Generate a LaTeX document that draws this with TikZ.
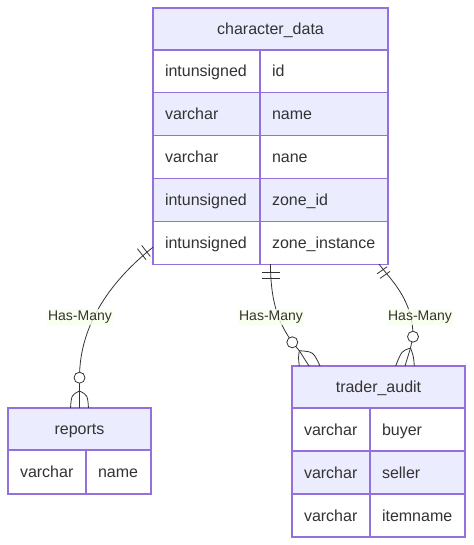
\documentclass[tikz,border=0pt]{standalone}
\usepackage{fontspec}
\setmainfont{Liberation Sans}
\usetikzlibrary{positioning,calc}

\definecolor{erline}{HTML}{9370DB}
\definecolor{erfill}{HTML}{ECECFF}
\definecolor{ertext}{HTML}{333333}
\definecolor{lblfill}{HTML}{F8FFEB}

\tikzstyle{entity}=[rectangle,
    draw=erline,
    line width=1.3pt,
    fill=erfill,
    minimum height=42pt,
    inner sep=0pt,
    outer sep=0pt,
    anchor=north west,
    text=ertext,
    text height=13pt,
    text depth=2pt,
    font=\fontsize{16}{19}\selectfont]
\tikzstyle{attr}=[rectangle,
    draw=erline,
    line width=1.3pt,
    minimum height=43pt,
    inner xsep=11pt,
    inner ysep=0pt,
    outer sep=0pt,
    anchor=north west,
    align=left,
    text=ertext,
    text height=13pt,
    text depth=2pt,
    font=\fontsize{16}{19}\selectfont]
\tikzstyle{rel} = [draw=ertext, line width=0.8pt]
\tikzstyle{zero} = [circle, draw=ertext, fill=white, line width=0.8pt, minimum size=11pt, inner sep=0pt]
\tikzstyle{relname} = [fill=lblfill, fill opacity=0.8, text opacity=1, text=ertext,
    inner sep=1.5pt, font=\fontsize{14}{16}\selectfont]

\begin{document}
\begin{tikzpicture}[x=1pt,y=-1pt]
    \useasboundingbox (0,0) rectangle (473,545);
    % entities
    \node[entity, minimum width=235pt] (cd) at (153,8) {character\_data};
    \foreach \i/\ty/\nm/\bg in {1/intunsigned/id/white, 2/varchar/name/erfill, 3/varchar/nane/white,
        4/intunsigned/zone\_id/erfill, 5/intunsigned/zone\_instance/white} {
        \node[attr, fill=\bg, text width=83pt, minimum width=107pt] (cd-t\i) at ($(cd.south west)+(0,{(\i-1)*42.8})$) {\ty};
        \node[attr, fill=\bg, text width=104pt, minimum width=128pt] (cd-n\i) at (cd-t\i.north east) {\nm};
    }
    \node[entity, minimum width=143pt] (rp) at (8,408) {reports};
    \node[attr, fill=white, text width=54pt, minimum width=78pt, minimum height=44pt] (rp-t1) at (rp.south west) {varchar};
    \node[attr, fill=white, text width=41pt, minimum width=65pt, minimum height=44pt] (rp-n1) at (rp-t1.north east) {name};
    \node[entity, minimum width=173pt] (ta) at (292,366) {trader\_audit};
    \foreach \i/\nm/\bg in {1/buyer/white, 2/seller/erfill, 3/itemname/white} {
        \node[attr, fill=\bg, text width=54pt, minimum width=78pt] (ta-t\i) at ($(ta.south west)+(0,{(\i-1)*43})$) {varchar};
        \node[attr, fill=\bg, text width=71pt, minimum width=95pt] (ta-n\i) at (ta-t\i.north east) {\nm};
    }

    % relationships
    \coordinate (s1) at ($(cd-t5.south west)+(0,-17)$);
    \coordinate (c1) at ($(rp.north)+(0,-30.3)$);
    \coordinate (a1) at ($(rp.north)+(0,-17)$);
    \draw[rel] (s1) .. controls +(-40,32) and +(0,-55) .. (c1) -- (rp.north);
    \draw[rel] ($(s1)+(-11.3,-1.8)$) -- ++(8.6,11);
    \draw[rel] ($(s1)+(-15.6,1.5)$) -- ++(8.6,11);
    \draw[rel] (a1) .. controls +(-8,4) .. ($(rp.north)+(-9,0)$);
    \draw[rel] (a1) .. controls +(8,4) .. ($(rp.north)+(9,0)$);
    \node[zero] (z1) at (c1) {};

    \coordinate (s2) at (cd.south |- cd-t5.south);
    \coordinate (c2) at ($(ta.north west)+(0.3,-23.7)$);
    \coordinate (a2) at ($(ta.north west)+(7.3,-15.3)$);
    \draw[rel] (s2) .. controls +(0,41) and +(-12,-17) .. (c2) -- (a2) -- ($(ta.north west)+(17,0)$);
    \draw[rel] ($(s2)+(-9,8)$) -- ++(18,0);
    \draw[rel] ($(s2)+(-9,14)$) -- ++(18,0);
    \draw[rel] (a2) .. controls +(-1,7) .. ($(ta.north west)+(7.3,0)$);
    \draw[rel] (a2) .. controls +(14,1) .. ($(ta.north west)+(28,0)$);
    \node[zero] (z2) at (c2) {};

    \coordinate (s3) at ($(cd-n5.south east)+(-9,0)$);
    \coordinate (c3) at ($(ta.north west)+(121,-29.3)$);
    \coordinate (a3) at ($(ta.north west)+(118.5,-18)$);
    \draw[rel] (s3) .. controls +(13,17) and +(0,-37) .. (c3) -- (a3) -- ($(ta.north west)+(113,0)$);
    \draw[rel] ($(s3)+(-1.8,9.5)$) -- ++(10,-7);
    \draw[rel] ($(s3)+(1,14.2)$) -- ++(10,-7);
    \draw[rel] (a3) .. controls +(-9,3) .. ($(ta.north west)+(103.7,0)$);
    \draw[rel] (a3) .. controls +(3,8) .. ($(ta.north west)+(122.3,0)$);
    \node[zero] (z3) at (c3) {};

    \node[relname] (l1) at (80,317) {Has-Many};
    \node[relname] (l2) at (271,317) {Has-Many};
    \node[relname] (l3) at (420,317) {Has-Many};
\end{tikzpicture}
\end{document}
